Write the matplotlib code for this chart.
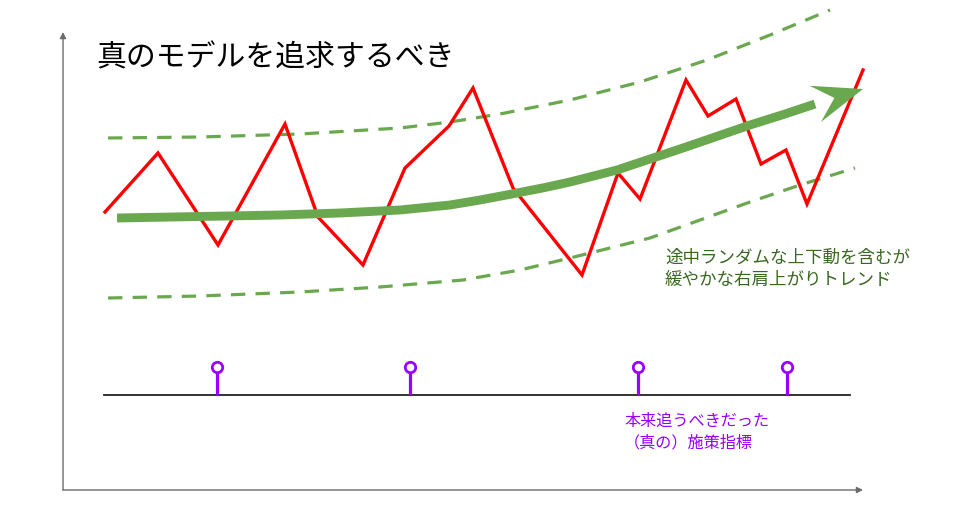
import matplotlib.pyplot as plt
import numpy as np

plt.rcParams['font.family'] = ['Noto Sans CJK JP', 'DejaVu Sans']

# values (pixel-like units, y grows downwards)
red_x = [105, 158, 218, 285, 318, 363, 405, 449, 473, 513, 582, 618, 640, 686, 708, 736, 761, 786, 807, 863]
red_y = [212, 153, 245, 124, 217, 265, 168, 126, 88, 188, 275, 173, 199, 80, 116, 99, 164, 150, 204, 70]

trend_x = [117, 200, 280, 340, 400, 450, 480, 517, 545, 570, 617, 650, 683, 715, 750, 785, 815]
trend_y = [218, 216.5, 215, 213, 210, 205, 200, 193, 187.5, 182, 170, 159, 148, 137, 125, 114, 104]
trend_tip = (863, 89)

upper_x = [108, 200, 300, 400, 450, 500, 570, 640, 707, 770, 830]
upper_y = [138, 137, 134, 128, 122, 114, 100, 82, 60, 35, 10]
lower_x = [108, 200, 300, 380, 463, 520, 570, 650, 700, 750, 800, 855]
lower_y = [298, 296, 292, 287, 280, 270, 258, 238, 220, 202, 185, 168]

kpi_x = [217, 410, 638, 787]
kpi_top = 367
base_y = 395

title = '真のモデルを追求するべき'
trend_label = '途中ランダムな上下動を含むが\n緩やかな右肩上がりトレンド'
kpi_label = '本来追うべきだった\n（真の）施策指標'

green = '#6aa84f'
purple = '#9900ff'

fig = plt.figure(figsize=(9.58, 5.18), dpi=100)
ax = fig.add_axes([0, 0, 1, 1])
ax.set_xlim(0, 958)
ax.set_ylim(518, 0)
ax.axis('off')

# axes arrows
ax.annotate('', xy=(63, 32), xytext=(63, 490),
            arrowprops=dict(arrowstyle='-|>', color='#6b6b6b', lw=1.0, mutation_scale=9, shrinkA=0, shrinkB=0))
ax.annotate('', xy=(863, 490), xytext=(63, 490),
            arrowprops=dict(arrowstyle='-|>', color='#6b6b6b', lw=1.0, mutation_scale=9, shrinkA=0, shrinkB=0))

# band
dash = (0, (4.5, 3.2))
ax.plot(upper_x, upper_y, color=green, lw=2.3, linestyle=dash)
ax.plot(lower_x, lower_y, color=green, lw=2.3, linestyle=dash)

# noisy series
ax.plot(red_x, red_y, color='#ff0000', lw=2.4, solid_joinstyle='miter', zorder=3)

# trend arrow
ax.plot(trend_x, trend_y, color=green, lw=6.4, solid_joinstyle='round', solid_capstyle='butt', zorder=4)
tip = np.array(trend_tip, dtype=float)
d = tip - np.array([trend_x[-1], trend_y[-1]])
d /= np.hypot(*d)
n = np.array([-d[1], d[0]])
base = tip - 50 * d
head = np.array([tip, base + 19 * n, tip - 30 * d, base - 19 * n])
ax.fill(head[:, 0], head[:, 1], color=green, lw=0, zorder=4)

# baseline and KPI stems
ax.plot([104, 850], [base_y, base_y], color='#222222', lw=1.3)
for x in kpi_x:
    ax.plot([x, x], [base_y, kpi_top + 4.5], color=purple, lw=2.3, solid_capstyle='butt')
ax.plot(kpi_x, [kpi_top] * len(kpi_x), 'o', ms=7.5, mfc='white', mec=purple, mew=2)

# texts
ax.text(96, 58, title, fontsize=21.5, color='black', va='center', ha='left')
ax.text(665, 269, trend_label, fontsize=12.6, color='#38671f', va='center', ha='left', linespacing=1.3)
ax.text(624, 432, kpi_label, fontsize=11.6, color=purple, va='center', ha='left', linespacing=1.4)

fig.savefig('out.png', dpi=100)
